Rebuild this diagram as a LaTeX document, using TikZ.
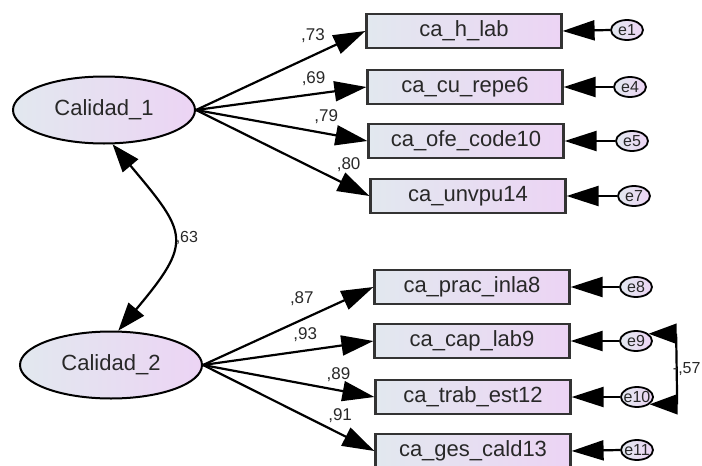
\documentclass[tikz,border=0pt]{standalone}
\usepackage{fontspec}
\setmainfont{Liberation Sans}
\usetikzlibrary{shapes,arrows.meta}
\definecolor{semleft}{RGB}{226,232,239}
\definecolor{semright}{RGB}{236,212,244}
\definecolor{semtext}{RGB}{40,40,40}
\newcommand{\semlatentnode}[3] {\node at (#1) (#2) [ellipse, draw, line width=2pt, left color=semleft, right color=semright, text=semtext, minimum width=182pt, minimum height=67pt, font=\fontsize{22}{26}\selectfont] {#3};}
\newcommand{\semindicatornode}[3] {\node at (#1) (#2) [rectangle, draw=black!80, line width=2.2pt, left color=semleft, right color=semright, text=semtext, minimum width=195pt, minimum height=34pt, font=\fontsize{22}{26}\selectfont] {#3};}
\newcommand{\semerrornode}[2] {\node at (#1) (#2) [ellipse, draw, line width=1.8pt, left color=semleft, right color=semright, text=semtext, minimum width=32pt, minimum height=20pt, inner xsep=-2pt, inner ysep=0pt, font=\fontsize{16}{18}\selectfont] {#2};}
\newcommand{\semloading}[5] {\draw [-{Triangle[length=32pt,width=20pt]}, line width=2.2pt] (#1.east) -- (#2.west) node [pos=#4, yshift=#5pt, inner sep=0pt, text=semtext, font=\fontsize{17}{20}\selectfont] {#3};}
\newcommand{\semerrorpath}[2] {\draw [-{Triangle[length=32pt,width=20pt]}, line width=2.2pt] (#1.west) -- (#2.east);}
\newcommand{\semcovariance}[7] {\draw [{Triangle[length=28pt,width=20pt]}-{Triangle[length=28pt,width=20pt]}, line width=2.2pt] (#1) to[out=#4, in=#5, looseness=#6] node [right=#7pt, inner sep=0pt, text=semtext, font=\fontsize{16}{19}\selectfont] {#3} (#2);}

\begin{document}
\begin{tikzpicture}[x=1pt, y=-1pt]
\useasboundingbox (0,0) rectangle (702,466);
\semlatentnode {104,110} {lat1} {Calidad\_1};
\semlatentnode {111,365} {lat2} {Calidad\_2};

\semindicatornode {464,31} {ind1} {ca\_h\_lab};
\semindicatornode {465,87} {ind2} {ca\_cu\_repe6};
\semindicatornode {466,141} {ind3} {ca\_ofe\_code10};
\semindicatornode {468,196} {ind4} {ca\_unvpu14};
\semindicatornode {472,287} {ind5} {ca\_prac\_inla8};
\semindicatornode {472,341} {ind6} {ca\_cap\_lab9};
\semindicatornode {473,397} {ind7} {ca\_trab\_est12};
\semindicatornode {473,451} {ind8} {ca\_ges\_cald13};

\semerrornode {627,30} {e1};
\semerrornode {630,87} {e4};
\semerrornode {632,141} {e5};
\semerrornode {634,196} {e7};
\semerrornode {636,287} {e8};
\semerrornode {636,341} {e9};
\semerrornode {637,397} {e10};
\semerrornode {637,450} {e11};

\semloading{lat1}{ind1}{,73}{0.69}{20};
\semloading{lat1}{ind2}{,69}{0.69}{15};
\semloading{lat1}{ind3}{,79}{0.76}{17};
\semloading{lat1}{ind4}{,80}{0.88}{21};
\semloading{lat2}{ind5}{,87}{0.58}{21};
\semloading{lat2}{ind6}{,93}{0.60}{16};
\semloading{lat2}{ind7}{,89}{0.79}{16};
\semloading{lat2}{ind8}{,91}{0.80}{18};

\semerrorpath{e1}{ind1};
\semerrorpath{e4}{ind2};
\semerrorpath{e5}{ind3};
\semerrorpath{e7}{ind4};
\semerrorpath{e8}{ind5};
\semerrorpath{e9}{ind6};
\semerrorpath{e10}{ind7};
\semerrorpath{e11}{ind8};

\semcovariance{lat1.-76}{lat2.78}{,63}{-50}{50}{1.6}{3};
\semcovariance{e9.30}{e10.-30}{-,57}{0}{0}{1}{2};

\end{tikzpicture}
\end{document}
